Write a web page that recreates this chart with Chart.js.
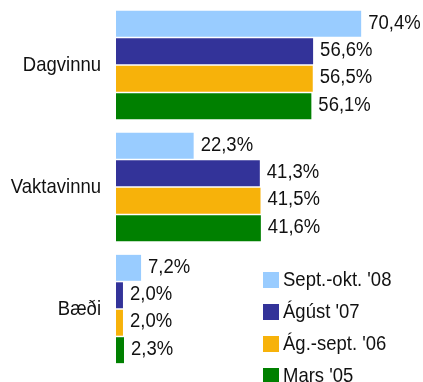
<!DOCTYPE html>
<html lang="is">
<head>
<meta charset="utf-8">
<title>Dagvinna og vaktavinna</title>
<script src="https://cdn.jsdelivr.net/npm/chart.js@4/dist/chart.umd.min.js"></script>
<style>
  html, body { margin: 0; padding: 0; background: #fff; }
  #wrap { width: 423px; height: 382px; position: relative; }
</style>
</head>
<body>
<div id="wrap"><canvas id="graf"></canvas></div>
<script>
// flokkar og mælingar (% svarenda)
const FLOKKAR = ["Dagvinnu", "Vaktavinnu", "Bæði"];
const TIMABIL = ["Sept.-okt. '08", "Ágúst '07", "Ág.-sept. '06", "Mars '05"];
const SEPT_OKT_08 = [70.4, 22.3, 7.2];
const AGUST_07    = [56.6, 41.3, 2.0];
const AG_SEPT_06  = [56.5, 41.5, 2.0];
const MARS_05     = [56.1, 41.6, 2.3];

const LITIR = ["#99ccff", "#333399", "#f7b20a", "#008000"];
const LETUR = "18.5px 'Liberation Sans', Arial, sans-serif";
const HAED = 1.13; // letrið er aðeins teygt á hæðina

// skrifar texta, teygðan lóðrétt um HAED
function texti(ctx, txt, x, y, align) {
  ctx.save();
  ctx.translate(x, y);
  ctx.scale(1, HAED);
  ctx.font = LETUR;
  ctx.fillStyle = "#111";
  ctx.textAlign = align;
  ctx.textBaseline = "middle";
  ctx.fillText(txt, 0, 0);
  ctx.restore();
}

// heiti flokka vinstra megin við súlurnar
const flokkaPlugin = {
  id: "flokkar",
  afterDraw(chart) {
    const y = chart.scales.y;
    chart.data.labels.forEach((lab, i) => {
      texti(chart.ctx, lab, y.right - 15, y.getPixelForTick(i), "right");
    });
  },
};

// gildi við enda hverrar súlu, t.d. "70,4%"
const gildiPlugin = {
  id: "gildi",
  afterDatasetsDraw(chart) {
    chart.data.datasets.forEach((ds, i) => {
      chart.getDatasetMeta(i).data.forEach((bar, j) => {
        const txt = ds.data[j].toFixed(1).replace(".", ",") + "%";
        texti(chart.ctx, txt, bar.x + 7, bar.y - 1, "left");
      });
    });
  },
};

// skýringar neðst til hægri
const skyringPlugin = {
  id: "skyring",
  afterDraw(chart) {
    const ctx = chart.ctx;
    chart.data.datasets.forEach((ds, i) => {
      const y = 280 + i * 32;
      ctx.fillStyle = ds.backgroundColor;
      ctx.fillRect(263, y - 8, 16, 16);
      texti(ctx, ds.label, 283, y, "left");
    });
  },
};

const gogn = [SEPT_OKT_08, AGUST_07, AG_SEPT_06, MARS_05];

new Chart(document.getElementById("graf"), {
  type: "bar",
  data: {
    labels: FLOKKAR,
    datasets: gogn.map((d, i) => ({
      label: TIMABIL[i],
      data: d,
      backgroundColor: LITIR[i],
      borderWidth: 0,
      categoryPercentage: 0.9,
      barPercentage: 0.945,
    })),
  },
  options: {
    indexAxis: "y",
    responsive: true,
    maintainAspectRatio: false,
    animation: false,
    layout: { padding: { top: 4, bottom: 12, right: 11, left: 0 } },
    plugins: { legend: { display: false }, tooltip: { enabled: false } },
    scales: {
      x: { display: false, min: 0, max: 85 },
      y: {
        grid: { display: false },
        border: { display: false },
        ticks: { display: false },
        afterFit(s) {
          s.width = 116;
          s.paddingTop = 0;
          s.paddingBottom = 0;
        },
      },
    },
  },
  plugins: [gildiPlugin, flokkaPlugin, skyringPlugin],
});
</script>
</body>
</html>
